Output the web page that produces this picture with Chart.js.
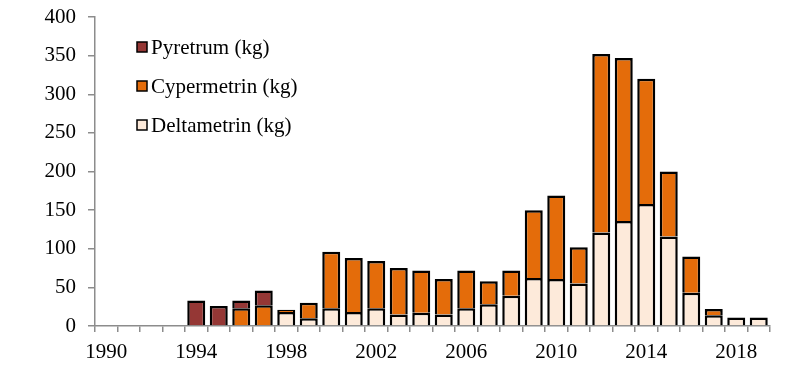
<!DOCTYPE html>
<html>
<head>
<meta charset="utf-8">
<script src="https://cdn.jsdelivr.net/npm/chart.js@4"></script>
<style>
  html, body { margin: 0; padding: 0; background: #fff; }
  #wrap { width: 810px; height: 390px; }
</style>
</head>
<body>
<div id="wrap"><canvas id="chart" width="810" height="390"></canvas></div>
<script>
// anos 1990..2019
const years = [];
for (let y = 1990; y <= 2019; y++) years.push(String(y));

const deltametrin = [null, null, null, null, null, null, null, null, 18, 10, 23, 18, 23, 15, 17, 15, 23, 28, 39, 62, 61, 55, 121, 136, 158, 116, 43, 14, 11, 11];
const cypermetrin = [null, null, null, null, null, null, 23, 27, 3, 20, 73, 70, 61, 60, 55, 46, 49, 30, 33, 88, 108, 47, 231, 211, 162, 84, 47, 8, null, null];
const pyretrum = [null, null, null, null, 33, 26, 10, 19, null, null, null, null, null, null, null, null, null, null, null, null, null, null, null, null, null, null, null, null, null, null];

const yTicks = [0, 50, 100, 150, 200, 250, 300, 350, 400];

const fontFam = '"Liberation Serif", "Times New Roman", serif';
const axisGrey = '#8c8c8c';

// leyenda vertical dentro del area
const legendBox = {
    id: 'legendBox',
    afterDraw(chart) {
        const { ctx } = chart;
        const items = [2, 1, 0]; // Pyretrum, Cypermetrin, Deltametrin
        ctx.save();
        ctx.font = '21px ' + fontFam;
        ctx.textBaseline = 'middle';
        ctx.textAlign = 'left';
        items.forEach((idx, k) => {
            const ds = chart.data.datasets[idx];
            const yc = 47 + k * 39;
            ctx.fillStyle = ds.backgroundColor;
            ctx.fillRect(137, yc - 5, 10, 10);
            ctx.lineWidth = 1.5;
            ctx.strokeStyle = '#000';
            ctx.strokeRect(137, yc - 5, 10, 10);
            ctx.fillStyle = '#000';
            ctx.fillText(ds.label, 151, yc + 1);
        });
        ctx.restore();
    }
};

const config = {
    type: 'bar',
    data: {
        labels: years,
        datasets: [
            { label: 'Deltametrin (kg)', data: deltametrin, backgroundColor: '#FDEADA' },
            { label: 'Cypermetrin (kg)', data: cypermetrin, backgroundColor: '#E46C0A' },
            { label: 'Pyretrum (kg)', data: pyretrum, backgroundColor: '#953735' }
        ]
    },
    options: {
        responsive: false,
        animation: false,
        layout: {
            padding: { top: 17, right: 40, bottom: 0, left: 0 }
        },
        datasets: {
            bar: {
                borderColor: '#000',
                borderWidth: 2.5,
                barPercentage: 0.8,
                categoryPercentage: 1.0
            }
        },
        plugins: {
            legend: { display: false },
            tooltip: { enabled: false }
        },
        scales: {
            x: {
                stacked: true,
                border: { display: true, color: axisGrey, width: 1.5 },
                grid: { display: true, drawOnChartArea: false, drawTicks: true, tickLength: 6, color: axisGrey, lineWidth: 1.5, offset: true },
                ticks: {
                    autoSkip: false,
                    maxRotation: 0,
                    padding: 8,
                    color: '#000',
                    font: { family: fontFam, size: 21 },
                    callback: function (val, i) {
                        const y = parseInt(years[i]);
                        return (y - 1990) % 4 === 0 ? years[i] : '';
                    }
                },
                afterFit(scale) {
                    scale.height = 64;
                    scale.paddingLeft = 0;
                    scale.paddingRight = 0;
                }
            },
            y: {
                stacked: true,
                min: 0,
                max: 400,
                border: { display: true, color: axisGrey, width: 1.5 },
                grid: { display: true, drawOnChartArea: false, drawTicks: true, tickLength: 7, color: axisGrey, lineWidth: 1.5 },
                afterBuildTicks(scale) { scale.ticks = yTicks.map(v => ({ value: v })); },
                ticks: {
                    padding: 12,
                    color: '#000',
                    font: { family: fontFam, size: 21 }
                },
                afterFit(scale) {
                    scale.width = 95;
                    scale.paddingTop = 0;
                    scale.paddingBottom = 0;
                }
            }
        }
    },
    plugins: [legendBox]
};

var myChart = new Chart(document.getElementById('chart'), config);
</script>
</body>
</html>
